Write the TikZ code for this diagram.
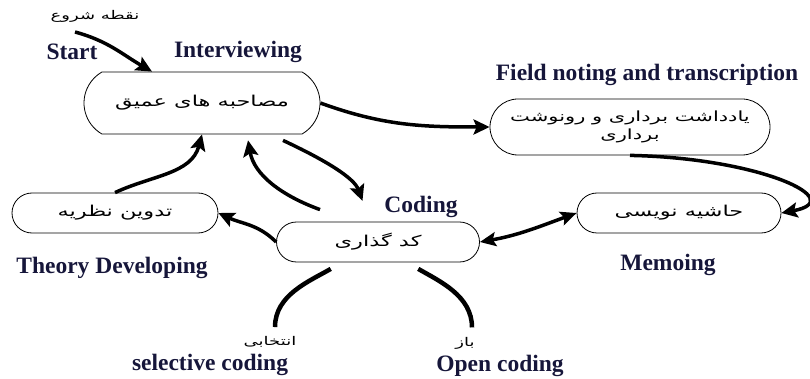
\documentclass[tikz,border=0pt]{standalone}
\usepackage{fontspec}
\setmainfont{Liberation Serif}
\newfontfamily\farsifont[Script=Arabic, FakeStretch=1.5]{DejaVu Sans}
\TeXXeTstate=1
\usepackage{tikz}
\usetikzlibrary{arrows.meta,shapes.misc,positioning}
\definecolor{labelink}{RGB}{22,22,58}
\newcommand{\fa}[1]{{\farsifont\beginR #1\endR}}
\tikzset{
	stage/.style={draw, line width=0.8pt, rounded rectangle, inner sep=2pt,
		font=\fontsize{15}{16}\selectfont, align=center},
	tag/.style={font=\fontsize{23.5}{26}\selectfont\bfseries, text=labelink},
	fatag/.style={font=\fontsize{12}{14}\selectfont},
	flow/.style={line width=3.5pt, -{Stealth[length=16pt,width=15pt,inset=3pt]}},
	flowtwo/.style={line width=3.5pt, {Stealth[length=16pt,width=14pt,inset=3pt]}-{Stealth[length=16pt,width=14pt,inset=3pt]}},
	branch/.style={line width=4.5pt},
}

\begin{document}
\begin{tikzpicture}[x=1pt,y=1pt]
	\useasboundingbox (0,0) rectangle (810,-379);
	%%%%%%%%%% etapas %%%%%%%%%%%%%%
	\node[stage, minimum width=240pt, minimum height=62pt, rounded rectangle arc length=120] (interview) at (202,-103) {\fa{مصاحبه های عمیق}};
	\node[stage, minimum width=284pt, minimum height=56pt, font=\fontsize{14}{17}\selectfont] (field) at (630,-127) {\fa{یادداشت برداری و رونوشت}\\[1pt]\fa{برداری}};
	\node[stage, minimum width=210pt, minimum height=40pt] (theory) at (115,-213) {\fa{تدوین نظریه}};
	\node[stage, minimum width=207pt, minimum height=40pt] (coding) at (378,-242) {\fa{کد گذاری}};
	\node[stage, minimum width=208pt, minimum height=40pt] (memo) at (679,-213) {\fa{حاشیه نویسی}};

	%%%%%%%%%% rotulos %%%%%%%%%%%%%%
	\node[fatag] (startfa) at (95,-16) {\fa{نقطه شروع}};
	\node[tag] (startlbl) at (72,-52) {Start};
	\node[tag] (interviewlbl) at (238,-52) {Interviewing};
	\node[tag] (fieldlbl) at (647,-75) {Field noting and transcription};
	\node[tag] (codinglbl) at (421,-207) {Coding};
	\node[tag] (theorylbl) at (112,-268) {Theory Developing};
	\node[tag] (memolbl) at (668,-265) {Memoing};
	\node[fatag] (selfa) at (270,-342) {\fa{انتخابی}};
	\node[tag] (sellbl) at (210,-365) {selective coding};
	\node[fatag] (openfa) at (465,-343) {\fa{باز}};
	\node[tag] (openlbl) at (500,-366) {Open coding};

	%%%%%%%%%% setas %%%%%%%%%%%%%%
	\coordinate (s0) at (75,-32);
	\draw[flow] (s0) to[out=-15, in=150] ([xshift=-50pt]interview.north);
	\draw[flow] (interview.east) to[out=-20, in=180] (field.west);
	\draw[flow] (field.south) .. controls (760,-158) and (850,-200) .. (memo.east);
	\draw[flowtwo] (memo.west) to[out=200, in=10] (coding.east);
	\draw[flow] (coding.west) to[out=135, in=-25] (theory.east);
	\draw[flow] (theory.north) to[out=25, in=-105] (interview.south);
	\draw[flow, shorten >=6pt] ([shift={(-58pt,12pt)}]coding.north) to[out=160, in=-80] ([xshift=45pt]interview.south);
	\draw[flow, shorten >=22pt] ([shift={(81pt,-6pt)}]interview.south) to[out=-25, in=110] ([xshift=-8pt]coding.north);

	%%%%%%%%%% ramos %%%%%%%%%%%%%%
	\draw[branch, shorten <=13pt, shorten >=6pt] ([xshift=-36pt]coding.south) to[out=-150, in=90] ([xshift=5pt]selfa.north);
	\draw[branch, shorten <=13pt, shorten >=6pt] ([xshift=29pt]coding.south) to[out=-30, in=90] ([xshift=7pt]openfa.north);
\end{tikzpicture}
\end{document}
